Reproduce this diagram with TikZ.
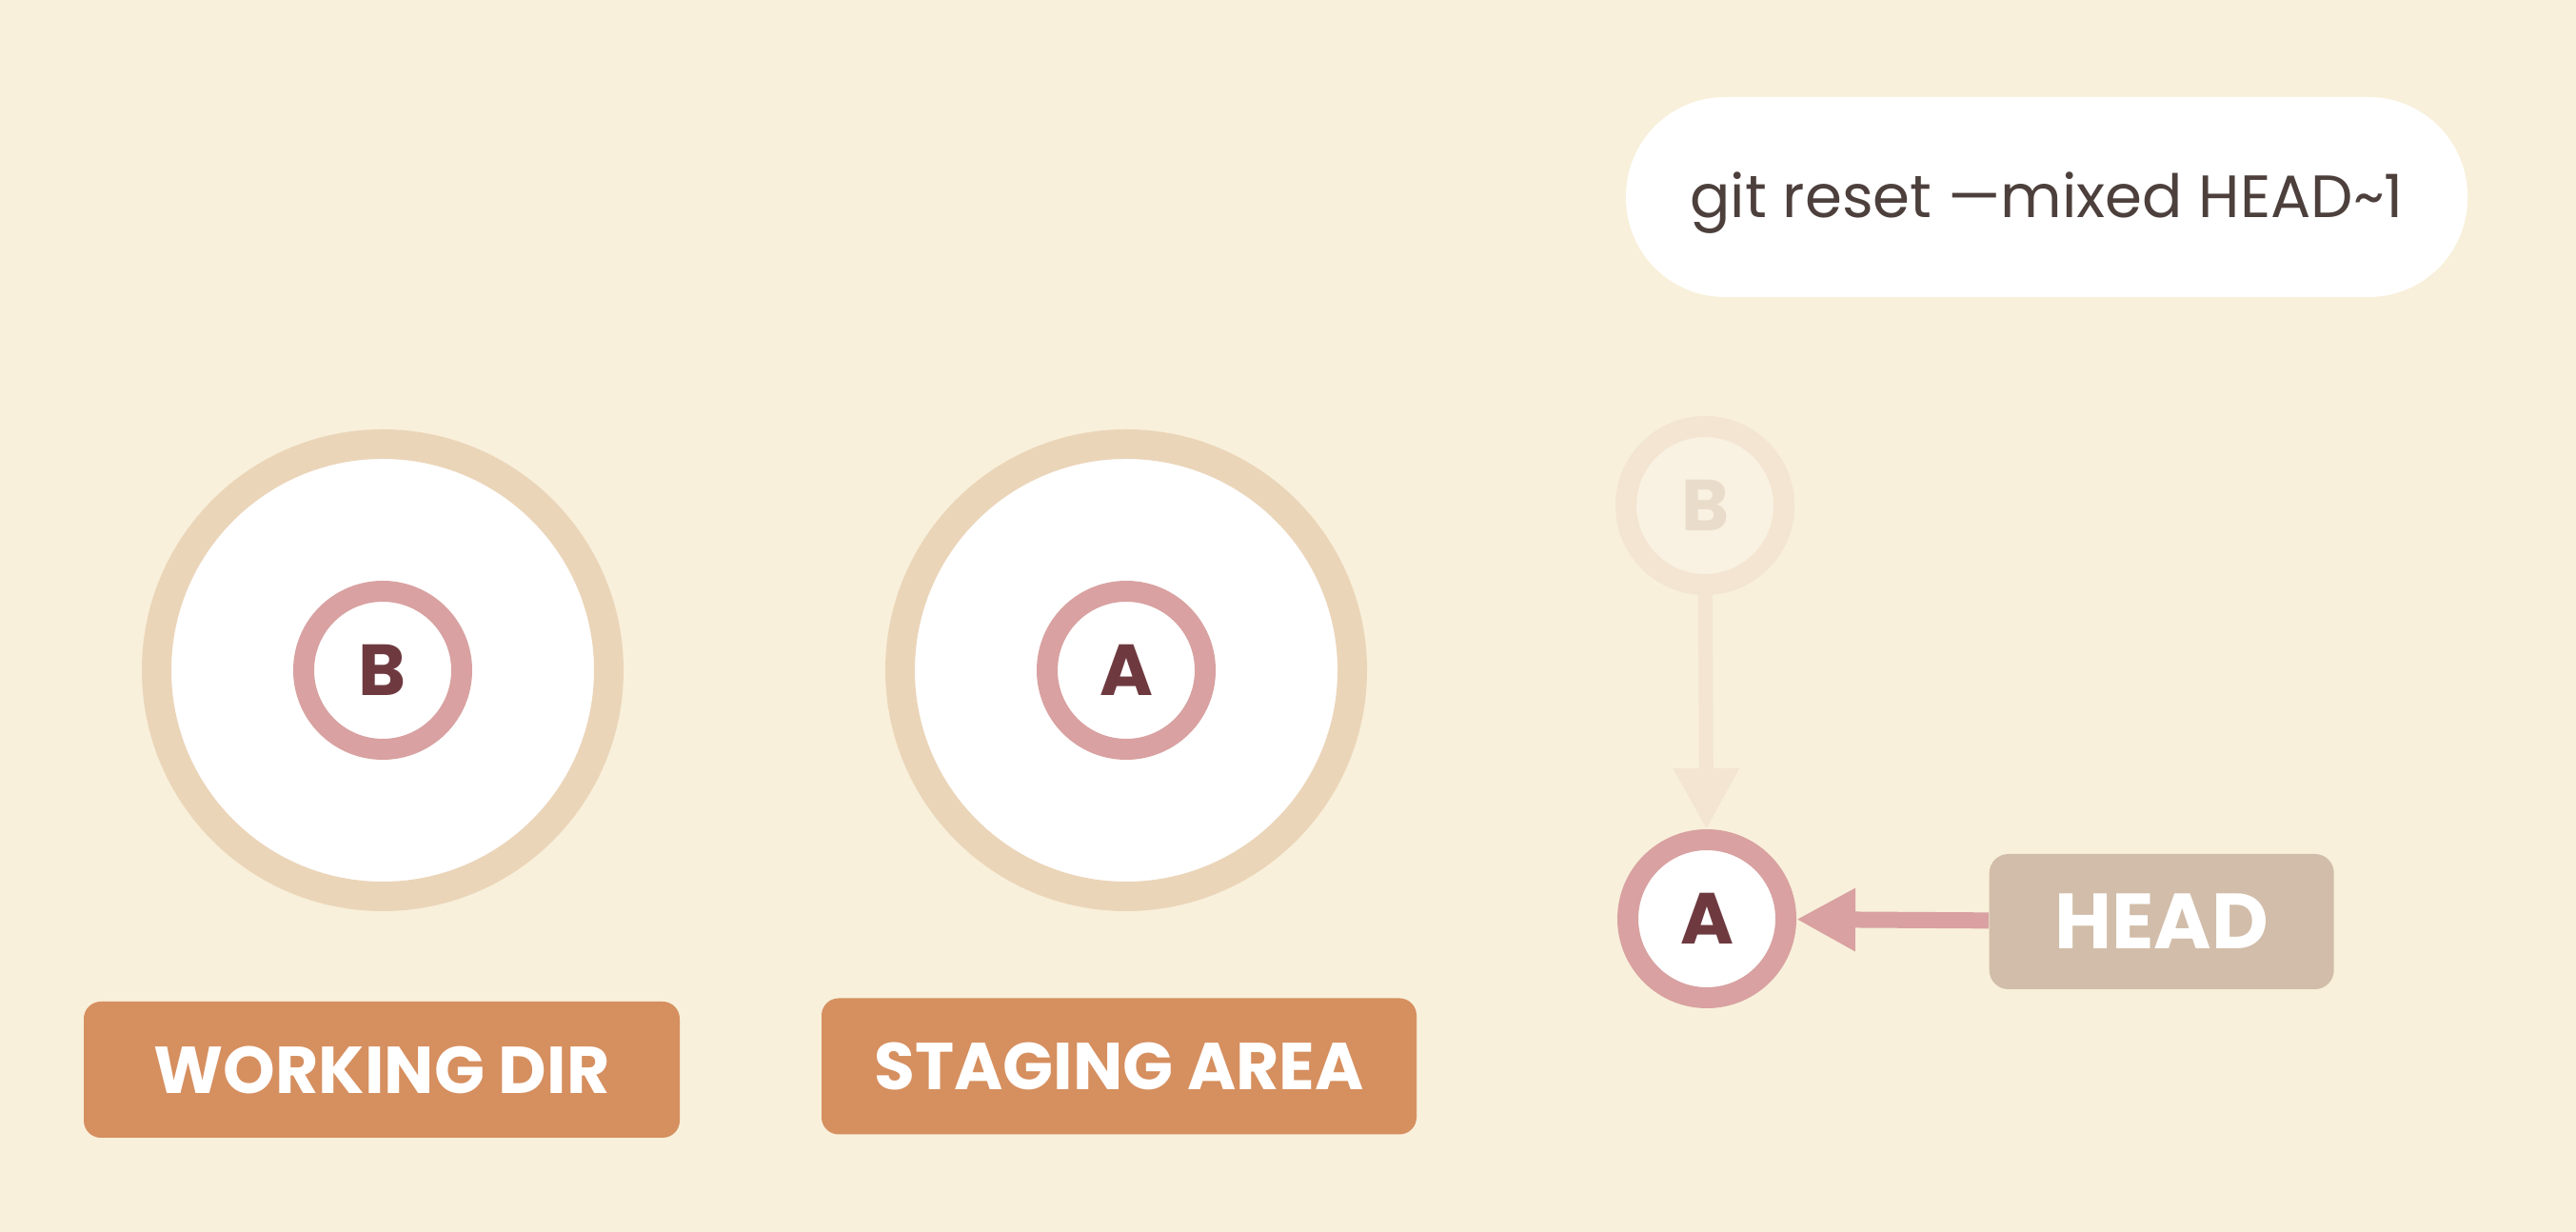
\documentclass[tikz,border=0pt]{standalone}
\usepackage{fontspec}
\setmainfont{Poppins}
\usepackage{tikz}
\usetikzlibrary{arrows.meta, positioning}
\definecolor{gitcream}{RGB}{248,240,218}
\definecolor{gitsand}{RGB}{235,213,185}
\definecolor{gitrose}{RGB}{217,161,161}
\definecolor{gitmaroon}{RGB}{110,58,64}
\definecolor{gitorange}{RGB}{214,143,95}
\definecolor{gittaupe}{RGB}{209,189,169}
\definecolor{gitink}{RGB}{77,64,60}
\definecolor{gitfadering}{RGB}{243,229,209}
\definecolor{gitfadefill}{RGB}{249,241,226}
\definecolor{gitfadetext}{RGB}{234,220,202}

\begin{document}
\begin{tikzpicture}[
  area/.style={circle, draw=gitsand, fill=white, line width=0.31cm, minimum size=4.75cm, inner sep=0pt},
  commit/.style={circle, draw=gitrose, fill=white, line width=0.22cm, minimum size=1.66cm, inner sep=0pt, text=gitmaroon, font=\fontsize{21.6}{24}\selectfont\bfseries},
  areatag/.style={fill=gitorange, rounded corners=0.18cm, minimum width=6.26cm, minimum height=1.43cm, text=white, font=\fontsize{19.8}{24}\selectfont\bfseries},
]

% Background
\fill[gitcream] (0,0) rectangle (27.06,12.94);

% Command pill
\node[fill=white, rounded corners=1.04cm, minimum width=8.84cm, minimum height=2.10cm, text height=0.43cm, text depth=0pt, text=gitink, font=\fontsize{17.85}{20}\selectfont] (cmd) at (21.50,10.87) {git reset —mixed HEAD\textasciitilde1};

% Working directory and staging area
\node[area] (work) at (4.02,5.90) {};
\node[commit] (workB) at (work.center) {B};
\node[area] (stage) at (11.83,5.90) {};
\node[commit] (stageA) at (stage.center) {A};
\node[areatag] (worktag) at (4.01,1.705) {WORKING DIR};
\node[areatag, minimum width=6.25cm] (stagetag) at (11.755,1.74) {STAGING AREA};

% Commit history
\node[commit, draw=gitfadering, fill=gitfadefill, text=gitfadetext] (oldB) at (17.91,7.63) {B};
\node[commit] (headA) at (17.93,3.29) {A};
\node[fill=gittaupe, rounded corners=0.2cm, minimum width=3.62cm, minimum height=1.42cm, text=white, font=\fontsize{23.4}{26}\selectfont\bfseries, right=2.02cm of headA, yshift=-0.03cm] (head) {HEAD};

\draw[gitfadering, line width=0.15cm, -{Triangle[length=0.64cm, width=0.65cm]}] (oldB) -- (headA);
\draw[gitrose, line width=0.17cm, -{Triangle[length=0.62cm, width=0.62cm]}] (head) -- (headA);

\end{tikzpicture}
\end{document}
